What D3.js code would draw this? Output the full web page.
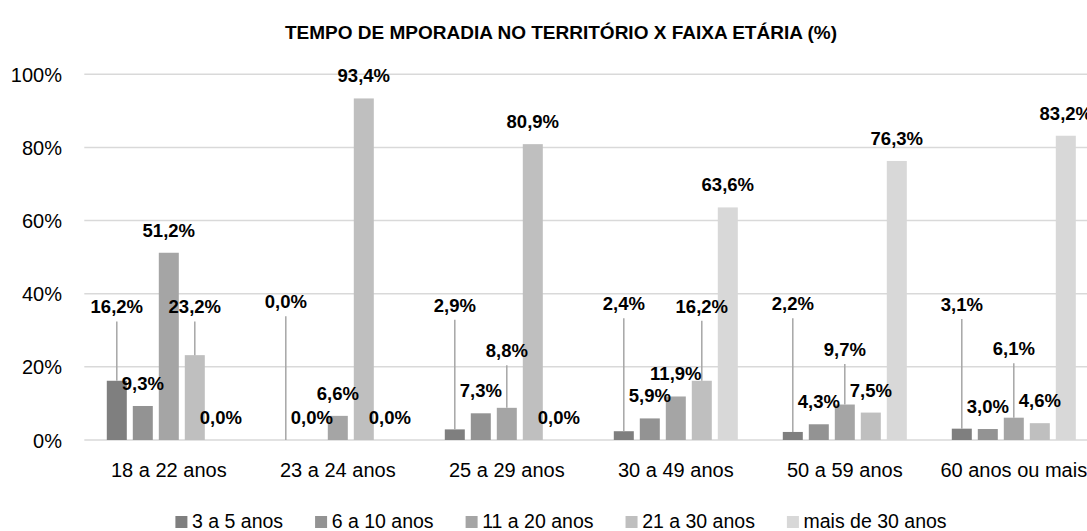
<!DOCTYPE html>
<html>
<head>
<meta charset="utf-8">
<script src="https://cdn.jsdelivr.net/npm/d3@7"></script>
<style>
  html, body { margin: 0; padding: 0; background: #fff; }
  svg { display: block; }
  text { font-family: "Liberation Sans", Arial, sans-serif; }
</style>
</head>
<body>
<svg id="chart" width="1087" height="531"></svg>
<script>
// ---- data ----
const title = "TEMPO DE MPORADIA NO TERRITÓRIO X FAIXA ETÁRIA (%)";
const categories = ["18 a 22 anos", "23 a 24 anos", "25 a 29 anos", "30 a 49 anos", "50 a 59 anos", "60 anos ou mais"];
const seriesNames = ["3 a 5 anos", "6 a 10 anos", "11 a 20 anos", "21 a 30 anos", "mais de 30 anos"];
const s3a5    = [16.2, 0.0, 2.9, 2.4, 2.2, 3.1];
const s6a10   = [9.3, 0.0, 7.3, 5.9, 4.3, 3.0];
const s11a20  = [51.2, 6.6, 8.8, 11.9, 9.7, 6.1];
const s21a30  = [23.2, 93.4, 80.9, 16.2, 7.5, 4.6];
const sMais30 = [0.0, 0.0, 0.0, 63.6, 76.3, 83.2];
const yTicks = [0, 20, 40, 60, 80, 100];
// labels that were moved away from their bar (value level of the label baseline), null = default
const moved3a5    = [34.6, 36.0, 35.1, 35.5, 35.5, 35.3];
const moved6a10   = [null, null, null, null, null, null];
const moved11a20  = [null, null, 22.6, null, 23.0, 23.2];
const moved21a30  = [34.6, null, null, 34.8, null, null];
const movedMais30 = [null, null, null, null, null, null];

const seriesValues = [s3a5, s6a10, s11a20, s21a30, sMais30];
const seriesMoved = [moved3a5, moved6a10, moved11a20, moved21a30, movedMais30];
const colors = ["#7f7f7f", "#939393", "#a5a5a5", "#bfbfbf", "#d8d8d8"];

// ---- layout ----
const svg = d3.select("#chart");
const plotLeft = 84.3, plotRight = 1098.3, plotTop = 74.3, plotBottom = 440;
const centerX = 561;

const x0 = d3.scaleBand().domain(categories).range([plotLeft, plotRight]).paddingInner(0).paddingOuter(0);
const x1 = d3.scaleBand().domain(seriesNames).range([0, x0.bandwidth()])
  .paddingInner(6 / 26).paddingOuter((x0.bandwidth() / 26 - 5 + 6 / 26) / 2);
const y = d3.scaleLinear().domain([0, 100]).range([plotBottom, plotTop]);

const fmt = v => d3.format(".1f")(v).replace(".", ",") + "%";

// gridlines
svg.append("g").selectAll("line").data(yTicks).join("line")
  .attr("x1", plotLeft).attr("x2", plotRight)
  .attr("y1", d => y(d)).attr("y2", d => y(d))
  .attr("stroke", "#d9d9d9").attr("stroke-width", 1.5);

// y axis labels
const yAxis = d3.axisLeft(y).tickValues(yTicks).tickFormat(d => d + "%").tickSize(0).tickPadding(0);
const gy = svg.append("g").attr("transform", `translate(62,0)`).call(yAxis);
gy.select(".domain").remove();
gy.selectAll("text").attr("font-size", 20).attr("fill", "#000")
  .attr("font-family", "'Liberation Sans', Arial, sans-serif").attr("dy", "0.35em");

// x axis labels
const xAxis = d3.axisBottom(x0).tickSize(0).tickPadding(0);
const gx = svg.append("g").attr("transform", `translate(0,${plotBottom})`).call(xAxis);
gx.select(".domain").remove();
gx.selectAll("text").attr("font-size", 20).attr("fill", "#000")
  .attr("font-family", "'Liberation Sans', Arial, sans-serif").attr("dy", null).attr("y", 37);

// build flat records
const records = [];
categories.forEach((c, ci) => {
  seriesNames.forEach((s, si) => {
    records.push({ cat: c, ser: s, si, v: seriesValues[si][ci], moved: seriesMoved[si][ci] });
  });
});
const cx = d => x0(d.cat) + x1(d.ser) + x1.bandwidth() / 2;

// bars
svg.append("g").selectAll("rect").data(records).join("rect")
  .attr("x", d => x0(d.cat) + x1(d.ser))
  .attr("width", x1.bandwidth())
  .attr("y", d => y(d.v))
  .attr("height", d => y(0) - y(d.v))
  .attr("fill", d => colors[d.si]);

// leader lines
svg.append("g").selectAll("line").data(records.filter(d => d.moved !== null)).join("line")
  .attr("x1", cx).attr("x2", cx)
  .attr("y1", d => y(d.moved) + 8).attr("y2", d => y(d.v))
  .attr("stroke", "#a6a6a6").attr("stroke-width", 1.5);

// data labels
svg.append("g").selectAll("text").data(records).join("text")
  .attr("x", cx)
  .attr("y", d => d.moved !== null ? y(d.moved) : y(d.v) - 16)
  .attr("text-anchor", "middle")
  .attr("font-size", 18.5).attr("font-weight", "bold").attr("fill", "#000")
  .text(d => fmt(d.v));

// title
svg.append("text").attr("x", centerX).attr("y", 39).attr("text-anchor", "middle")
  .attr("font-size", 19).attr("font-weight", "bold").attr("fill", "#000").text(title);

// legend
const leg = svg.append("g");
const items = leg.selectAll("g").data(seriesNames).join("g");
items.append("rect").attr("width", 12).attr("height", 12).attr("y", 516)
  .attr("fill", (d, i) => colors[i]);
items.append("text").attr("x", 16.6).attr("y", 527.5).attr("font-size", 19.5).attr("fill", "#000").text(d => d);
let xpos = 0;
items.each(function () {
  const g = d3.select(this);
  g.attr("transform", `translate(${xpos},0)`);
  const w = 16.6 + g.select("text").node().getComputedTextLength();
  xpos += w + 32;
});
const total = xpos - 32;
leg.attr("transform", `translate(${centerX - total / 2},0)`);
</script>
</body>
</html>
